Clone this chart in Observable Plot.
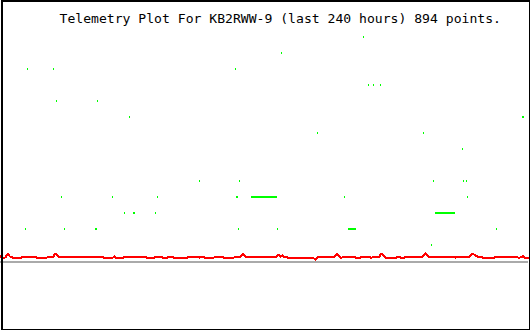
<!DOCTYPE html>
<html>
<head>
<meta charset="utf-8">
<script src="https://cdn.jsdelivr.net/npm/d3@7"></script>
<script src="https://cdn.jsdelivr.net/npm/@observablehq/plot@0.6"></script>
<style>
  html, body { margin: 0; padding: 0; background: #fff; }
  svg { display: block; }
</style>
</head>
<body>
<div id="chart"></div>
<script>
const title = "Telemetry Plot For KB2RWW-9 (last 240 hours) 894 points.";

// Red telemetry trace: hours and level
const redHour = [0,0.91,2.27,3.32,4.32,5.0,5.45,9.55,10.0,15.91,16.36,21.36,21.82,24.09,24.77,25.91,26.36,46.36,46.82,51.36,51.82,52.27,55.91,56.36,65.91,66.36,70.0,70.45,73.18,73.64,75.91,76.36,78.18,78.64,85.0,85.45,90.0,90.45,90.91,92.27,92.73,97.27,97.73,100.91,101.36,106.36,106.82,109.09,110.32,111.36,125.45,126.36,127.27,128.05,128.64,130.0,130.45,141.82,143.18,144.55,151.82,153.05,154.09,154.55,155.45,155.91,160.91,161.36,163.64,164.09,167.73,168.18,169.09,169.55,172.27,173.05,175.0,180.0,180.45,181.36,181.82,183.64,184.09,191.82,193.18,194.55,206.36,206.82,207.27,207.73,213.18,214.41,216.82,218.64,219.09,224.55,225.0,234.55,235.0,236.36,237.59,238.18,240];
const redLevel = [0.31,0.25,0.25,0.5,0.31,0.31,0.25,0.25,0.31,0.31,0.25,0.25,0.31,0.31,0.5,0.38,0.31,0.31,0.25,0.25,0.31,0.25,0.25,0.31,0.31,0.25,0.25,0.31,0.31,0.25,0.25,0.31,0.31,0.25,0.25,0.31,0.31,0.25,0.31,0.31,0.25,0.25,0.31,0.31,0.25,0.25,0.31,0.31,0.47,0.31,0.31,0.41,0.31,0.38,0.31,0.31,0.25,0.25,0.12,0.31,0.31,0.5,0.31,0.25,0.25,0.31,0.31,0.25,0.25,0.31,0.31,0.25,0.25,0.31,0.31,0.5,0.25,0.25,0.31,0.31,0.25,0.25,0.31,0.31,0.5,0.31,0.31,0.25,0.25,0.31,0.31,0.5,0.31,0.31,0.25,0.25,0.31,0.31,0.25,0.25,0.34,0.25,0.25];

// Green samples: start hour, end hour, level
const greenStart = [11.59,12.5,24.32,25.68,27.95,29.32,43.41,44.32,51.14,56.59,58.86,60.68,70.68,71.59,90.68,107.05,107.5,108.41,108.86,114.32,126.14,127.95,144.32,156.59,158.41,165.23,167.5,169.77,172.95,192.5,196.14,197.05,197.95,210.23,210.68,212.05,212.5,225.68,237.5];
const greenEnd   = [11.59,12.5,24.32,25.68,27.95,29.32,43.86,44.32,51.14,56.59,58.86,61.14,70.68,71.59,90.68,107.05,107.95,108.41,108.86,125.68,126.14,127.95,144.32,156.59,161.59,165.23,167.5,169.77,172.95,192.5,196.14,197.05,206.59,210.23,210.68,212.05,212.5,225.68,237.95];
const greenLevel = [2,12,12,10,4,2,2,10,4,3,9,3,3,4,5,12,4,2,5,4,2,13,8,4,2,14,11,11,11,8,1,5,3,7,5,5,4,2,9];

const red = redHour.map((h, i) => ({hour: h, level: redLevel[i]}));
const green = greenStart.map((s, i) => ({start: s, end: greenEnd[i], level: greenLevel[i]}));

const chart = Plot.plot({
  width: 530,
  height: 330,
  marginLeft: 0,
  marginRight: 2,
  marginTop: 21,
  marginBottom: 69,
  x: {domain: [0, 240], axis: null},
  y: {domain: [0, 15], axis: null},
  style: {background: "#fff"},
  marks: [
    Plot.ruleY([0], {stroke: "#aaaaaa", strokeWidth: 2, shapeRendering: "crispEdges"}),
    Plot.rect(green, {
      x1: "start", x2: "end", y1: "level", y2: "level",
      insetLeft: -0.5, insetRight: -0.5, insetTop: -1, insetBottom: -1,
      fill: "#00ff00", shapeRendering: "crispEdges"
    }),
    Plot.line(red, {x: "hour", y: "level", stroke: "#ff0000", strokeWidth: 2, shapeRendering: "crispEdges"}),
    Plot.text([title], {
      frameAnchor: "top-left", dx: 59, dy: 1, textAnchor: "start", lineAnchor: "bottom",
      fontSize: 13.1, fontFamily: "DejaVu Sans Mono", fill: "#000"
    }),
    Plot.frame({stroke: "#000", strokeWidth: 2, insetLeft: 1, insetRight: -1, insetTop: -21, insetBottom: -68, shapeRendering: "crispEdges"})
  ]
});
document.getElementById("chart").append(chart);
</script>
</body>
</html>
